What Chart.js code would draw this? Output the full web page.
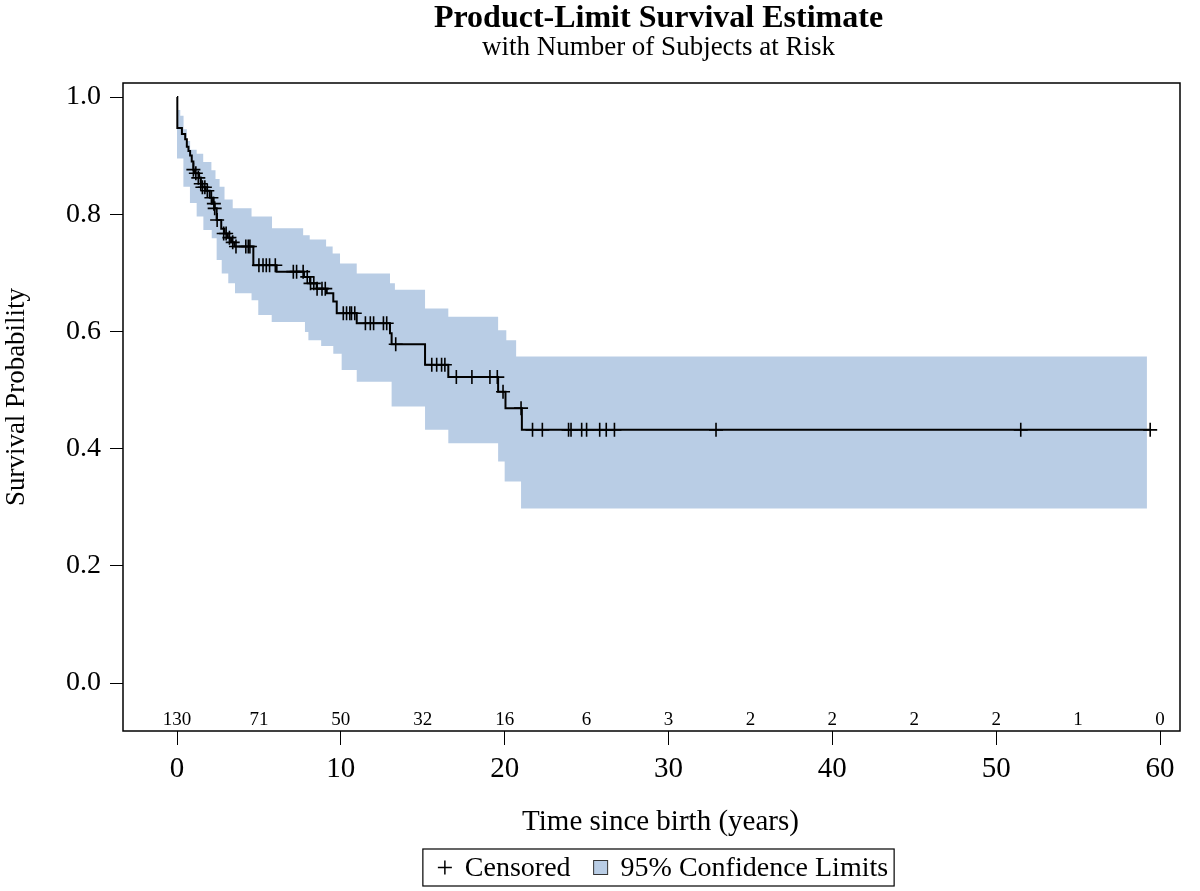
<!DOCTYPE html>
<html lang="en">
<head>
    <meta charset="UTF-8">
    <title>Product-Limit Survival Estimate</title>
    <script src="https://cdn.jsdelivr.net/npm/chart.js"></script>
    <style>
        body {
            margin: 0;
            padding: 0;
            background-color: white;
        }
        .chart-box {
            width: 1200px;
            height: 891px;
            position: relative;
        }
    </style>
</head>
<body>
    <div class="chart-box">
        <canvas id="kmChart"></canvas>
    </div>

    <script>
        // Kaplan-Meier estimate (time of step, survival after step)
        const stepTimes = [0, 0.02, 0.3, 0.5, 0.6, 0.7, 0.8, 0.9, 1.0, 1.1, 1.35, 1.45, 1.55, 1.75, 2.0, 2.2, 2.3, 2.42, 2.7, 2.9, 3.1, 3.3, 3.5, 4.66, 6.08, 7.75, 8.12, 8.53, 9.14, 9.54, 9.75, 10.97, 13.0, 13.1, 15.14, 16.56, 19.6, 20.05, 21.05, 59.4];
        const survival = [1.0, 0.947, 0.937, 0.928, 0.915, 0.908, 0.9, 0.89, 0.876, 0.87, 0.862, 0.852, 0.846, 0.84, 0.828, 0.818, 0.81, 0.79, 0.775, 0.767, 0.76, 0.752, 0.745, 0.713, 0.702, 0.693, 0.682, 0.673, 0.665, 0.651, 0.631, 0.614, 0.597, 0.578, 0.543, 0.522, 0.497, 0.469, 0.432, 0.432];

        // 95% confidence limits
        const upperTimes = [0, 0.2, 0.4, 0.6, 0.8, 1.2, 1.6, 2.1, 2.35, 2.6, 2.9, 3.4, 4.55, 5.8, 7.7, 8.1, 9.1, 9.5, 9.95, 10.97, 13.0, 13.3, 15.14, 16.56, 19.6, 20.1, 20.7, 59.2];
        const upperLimit = [0.978, 0.968, 0.945, 0.925, 0.91, 0.903, 0.889, 0.875, 0.86, 0.847, 0.825, 0.81, 0.796, 0.776, 0.764, 0.757, 0.745, 0.733, 0.716, 0.699, 0.682, 0.671, 0.639, 0.625, 0.602, 0.585, 0.557, 0.557];
        const lowerTimes = [0, 0.39, 0.79, 1.2, 1.61, 2.12, 2.42, 2.73, 3.13, 3.54, 4.55, 4.96, 5.78, 7.81, 8.02, 8.8, 9.54, 10.05, 10.97, 13.1, 15.14, 16.56, 19.6, 20.0, 21.0, 59.2];
        const lowerLimit = [0.895, 0.847, 0.819, 0.796, 0.773, 0.759, 0.722, 0.699, 0.682, 0.665, 0.653, 0.628, 0.616, 0.599, 0.585, 0.575, 0.562, 0.534, 0.514, 0.472, 0.432, 0.409, 0.378, 0.344, 0.298, 0.298];

        // censored observations
        const censorTimes = [1.0, 1.15, 1.3, 1.45, 1.55, 1.7, 1.85, 2.1, 2.25, 2.3, 2.45, 2.85, 3.0, 3.2, 3.4, 3.6, 4.2, 4.35, 4.45, 5.0, 5.25, 5.45, 5.65, 6.0, 7.1, 7.3, 7.7, 7.95, 8.15, 8.35, 8.55, 8.85, 9.05, 10.15, 10.35, 10.55, 10.65, 10.85, 11.5, 11.8, 12.0, 12.6, 12.8, 13.35, 15.55, 15.85, 16.15, 16.35, 17.05, 18.0, 19.1, 19.55, 19.9, 21.0, 21.7, 22.3, 23.9, 24.05, 24.7, 25.0, 25.8, 26.2, 26.7, 32.9, 51.5, 59.4];
        const censorSurv = [0.876, 0.87, 0.862, 0.852, 0.846, 0.846, 0.84, 0.828, 0.818, 0.81, 0.79, 0.767, 0.767, 0.76, 0.752, 0.745, 0.745, 0.745, 0.745, 0.713, 0.713, 0.713, 0.713, 0.713, 0.702, 0.702, 0.702, 0.693, 0.682, 0.682, 0.673, 0.673, 0.673, 0.631, 0.631, 0.631, 0.631, 0.631, 0.614, 0.614, 0.614, 0.614, 0.614, 0.578, 0.543, 0.543, 0.543, 0.543, 0.522, 0.522, 0.522, 0.522, 0.497, 0.469, 0.432, 0.432, 0.432, 0.432, 0.432, 0.432, 0.432, 0.432, 0.432, 0.432, 0.432, 0.432];

        // number at risk
        const riskTimes = [0, 5, 10, 15, 20, 25, 30, 35, 40, 45, 50, 55, 60];
        const atRisk = [130, 71, 50, 32, 16, 6, 3, 2, 2, 2, 2, 1, 0];

        const xTicks = [0, 10, 20, 30, 40, 50, 60];
        const yTicks = [0, 0.2, 0.4, 0.6, 0.8, 1.0];

        const bandColor = '#B9CDE5';
        const serif = "'Liberation Serif', 'Times New Roman', serif";

        function toPoints(xs, ys) {
            return xs.map((x, i) => ({ x: x, y: ys[i] }));
        }

        // frame, titles, axis labels, at-risk row and legend box
        const extras = {
            id: 'extras',
            afterDraw(chart) {
                const ctx = chart.ctx;
                const area = chart.chartArea;
                const xs = chart.scales.x;
                const cx = (area.left + area.right) / 2 + 7;

                ctx.save();
                ctx.strokeStyle = '#000';
                ctx.lineWidth = 1.5;
                ctx.strokeRect(area.left, area.top, area.right - area.left, area.bottom - area.top);

                ctx.fillStyle = '#000';
                ctx.textAlign = 'center';
                ctx.textBaseline = 'middle';
                ctx.font = 'bold 32px ' + serif;
                ctx.fillText('Product-Limit Survival Estimate', cx, 19);
                ctx.font = '27px ' + serif;
                ctx.fillText('with Number of Subjects at Risk', cx, 48);

                ctx.font = '29px ' + serif;
                ctx.fillText('Time since birth (years)', cx + 2, 822);

                ctx.save();
                ctx.translate(17, 397);
                ctx.rotate(-Math.PI / 2);
                ctx.font = '27px ' + serif;
                ctx.fillText('Survival Probability', 0, 0);
                ctx.restore();

                ctx.font = '19px ' + serif;
                riskTimes.forEach((t, i) => {
                    ctx.fillText(String(atRisk[i]), xs.getPixelForValue(t), 720);
                });

                // legend
                ctx.font = '28px ' + serif;
                const w1 = ctx.measureText('Censored').width;
                const w2 = ctx.measureText('95% Confidence Limits').width;
                const boxW = 22 + 20 + w1 + 30 + 20 + w2 + 6;
                const lx = cx - boxW / 2;
                const ly = 849, lh = 37, my = ly + lh / 2;
                ctx.lineWidth = 1.2;
                ctx.strokeRect(lx, ly, boxW, lh);
                let x = lx + 22;
                ctx.lineWidth = 1.5;
                ctx.beginPath();
                ctx.moveTo(x - 7, my); ctx.lineTo(x + 7, my);
                ctx.moveTo(x, my - 7); ctx.lineTo(x, my + 7);
                ctx.stroke();
                x += 20;
                ctx.textAlign = 'left';
                ctx.fillText('Censored', x, my + 1);
                x += w1 + 30;
                ctx.fillStyle = bandColor;
                ctx.fillRect(x - 7, my - 7, 14, 14);
                ctx.strokeStyle = '#333';
                ctx.lineWidth = 1;
                ctx.strokeRect(x - 7, my - 7, 14, 14);
                ctx.fillStyle = '#000';
                ctx.fillText('95% Confidence Limits', x + 20, my + 1);
                ctx.restore();
            }
        };

        new Chart(document.getElementById('kmChart'), {
            type: 'scatter',
            data: {
                datasets: [
                    {
                        label: 'Censored',
                        data: toPoints(censorTimes, censorSurv),
                        showLine: false,
                        pointStyle: 'cross',
                        pointRadius: 7,
                        borderColor: '#000',
                        borderWidth: 1.6,
                        order: 1
                    },
                    {
                        label: 'Survival',
                        data: toPoints(stepTimes, survival),
                        showLine: true,
                        stepped: true,
                        borderColor: '#000',
                        borderWidth: 2,
                        pointRadius: 0,
                        fill: false,
                        order: 2
                    },
                    {
                        label: 'Upper',
                        data: toPoints(upperTimes, upperLimit),
                        showLine: true,
                        stepped: true,
                        borderWidth: 0,
                        borderColor: bandColor,
                        backgroundColor: bandColor,
                        pointRadius: 0,
                        fill: '+1',
                        order: 3
                    },
                    {
                        label: 'Lower',
                        data: toPoints(lowerTimes, lowerLimit),
                        showLine: true,
                        stepped: true,
                        borderWidth: 0,
                        borderColor: bandColor,
                        pointRadius: 0,
                        fill: false,
                        order: 4
                    }
                ]
            },
            options: {
                responsive: true,
                maintainAspectRatio: false,
                animation: false,
                layout: {
                    padding: { left: 0, right: 20, top: 83, bottom: 45 }
                },
                plugins: {
                    legend: { display: false },
                    title: { display: false },
                    tooltip: { enabled: false }
                },
                scales: {
                    x: {
                        type: 'linear',
                        min: -3.296,
                        max: 61.22,
                        afterBuildTicks: (scale) => {
                            scale.ticks = xTicks.map(v => ({ value: v }));
                        },
                        afterFit: (scale) => { scale.height = 891 - 731 - 45; },
                        grid: { drawOnChartArea: false, drawTicks: true, tickLength: 14, color: '#000', lineWidth: 1 },
                        border: { display: false },
                        ticks: {
                            color: '#000',
                            padding: 7,
                            maxRotation: 0,
                            font: { family: serif, size: 29 }
                        }
                    },
                    y: {
                        type: 'linear',
                        min: -0.0819,
                        max: 1.0239,
                        afterBuildTicks: (scale) => {
                            scale.ticks = yTicks.map(v => ({ value: v }));
                        },
                        afterFit: (scale) => { scale.width = 123; },
                        grid: { drawOnChartArea: false, drawTicks: true, tickLength: 13, color: '#000', lineWidth: 1 },
                        border: { display: false },
                        ticks: {
                            color: '#000',
                            padding: 9,
                            font: { family: serif, size: 28 },
                            callback: (v) => Number(v).toFixed(1)
                        }
                    }
                }
            },
            plugins: [extras]
        });
    </script>
</body>
</html>
